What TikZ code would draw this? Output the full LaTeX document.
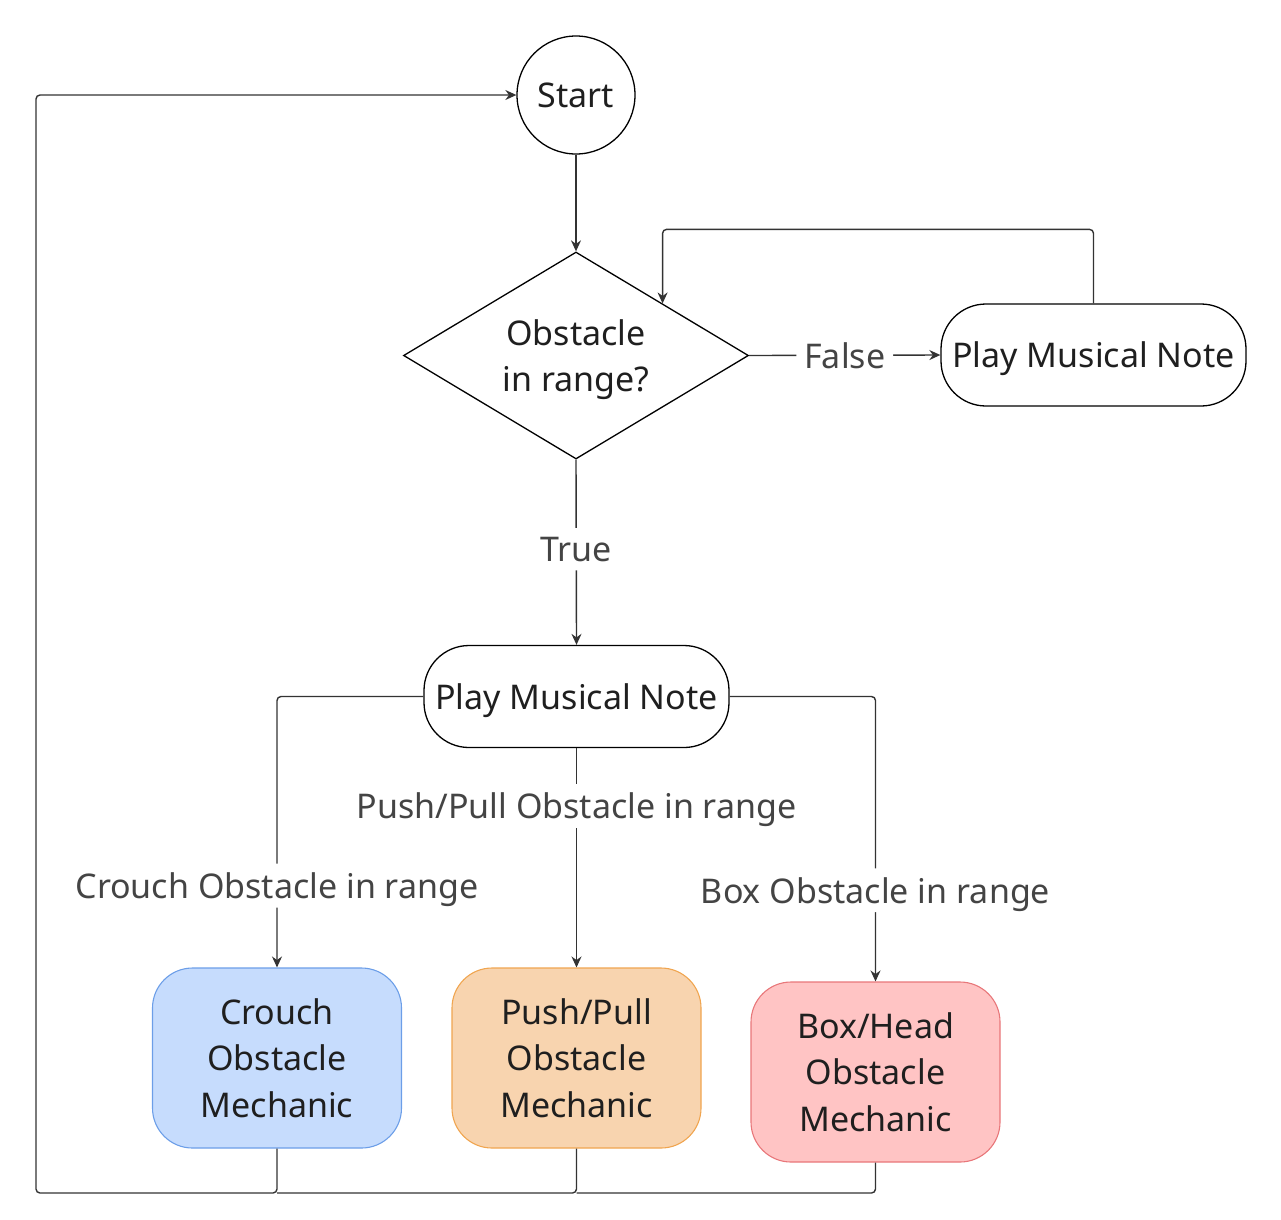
\documentclass[tikz,border=0pt]{standalone}
\usepackage{fontspec}
\setmainfont{Noto Sans}
\usetikzlibrary{shapes.geometric,arrows.meta,calc}
\definecolor{lineC}{HTML}{333333}
\definecolor{txtC}{HTML}{1F1F1F}
\definecolor{lblC}{HTML}{444444}
\definecolor{blueF}{HTML}{C6DCFD}
\definecolor{blueD}{HTML}{6C9EE8}
\definecolor{orangeF}{HTML}{F8D4AF}
\definecolor{orangeD}{HTML}{F0A550}
\definecolor{redF}{HTML}{FFC4C4}
\definecolor{redD}{HTML}{E8777A}
\tikzset{
  base/.style={font=\fontsize{34}{46.5}\selectfont, text=txtC, line width=1.3pt, inner sep=0pt, align=center},
  pill/.style={base, draw=black, rounded corners=45pt, minimum width=305pt, minimum height=102pt, text depth=0pt},
  mech/.style={base, rounded corners=40pt, minimum width=249pt, minimum height=180pt, line width=1.1pt},
  conn/.style={draw=lineC, line width=1.4pt, rounded corners=4pt},
  arr/.style={conn, -{Stealth[length=11pt,width=10pt]}},
  lbl/.style={font=\fontsize{34}{40}\selectfont, text=lblC, fill=white, inner xsep=8pt, inner ysep=9pt, text depth=0pt}
}
\begin{document}
\begin{tikzpicture}[x=1pt,y=1pt]
\useasboundingbox (0,0) rectangle (1281,-1219);
\node[base, draw=black, circle, minimum size=118pt] (s) at (576,-95) {Start};
\node[base, draw=black, diamond, minimum width=345pt, minimum height=207pt] (d) at (576,-355.5) {};
\node[base, yshift=-4pt] (dt) at (d.center) {Obstacle\\in range?};
\node[pill] (r) at (1093.5,-355) {Play Musical Note};
\node[pill] (m) at (576.5,-696.5) {Play Musical Note};
\node[mech, draw=blueD, fill=blueF] (c) at (277,-1058) {Crouch\\Obstacle\\Mechanic};
\node[mech, draw=orangeD, fill=orangeF] (p) at (576.5,-1058) {Push/Pull\\Obstacle\\Mechanic};
\node[mech, draw=redD, fill=redF] (b) at (875.5,-1072) {Box/Head\\Obstacle\\Mechanic};
\coordinate (bl) at (36,-1193);
\coordinate (jc) at (277,-1193);
\coordinate (jp) at (576.5,-1193);

\draw[arr] (s.south) -- (d.north);
\draw[arr] (d.east) -- node[lbl] {False} (r.west);
\draw[arr] (r.north) -- ++(0,74) -| (d.north east);
\draw[arr] (d.south) -- node[lbl, pos=0.484] {True} (m.north);
\draw[arr] (m.west) -| node[lbl, pos=0.849] {Crouch Obstacle in range} (c.north);
\draw[arr] (m.south) -- node[lbl, pos=0.264] {Push/Pull Obstacle in range} (p.north);
\draw[arr] (m.east) -| node[lbl, pos=0.84] {Box Obstacle in range} (b.north);
\draw[arr] (c.south) |- (bl) |- (s.west);
\draw[conn] (p.south) |- (jc);
\draw[conn] (b.south) |- (jp);
\end{tikzpicture}
\end{document}
